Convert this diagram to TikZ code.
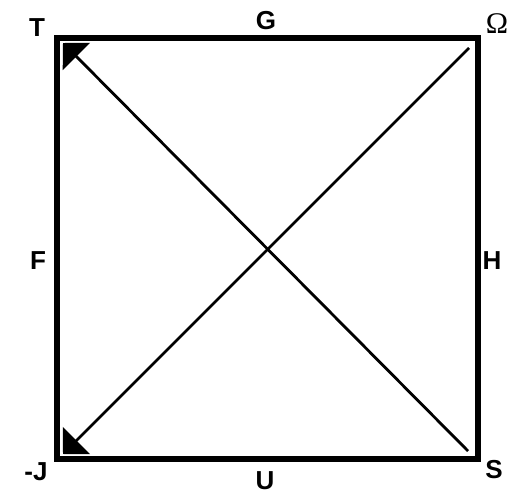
\documentclass[tikz,border=0pt]{standalone}
\usepackage{fontspec}
\setmainfont{Liberation Sans}
\newfontfamily\serifom{Liberation Serif}
\usetikzlibrary{arrows.meta}
\begin{document}
\begin{tikzpicture}[x=1pt,y=-1pt,
  lbl/.style={font=\fontsize{26}{26}\selectfont\bfseries, inner sep=0pt},
  frame/.style={line width=6pt},
  diag/.style={line width=2.8pt, -{Triangle[length=19pt,width=38pt]}}]
\useasboundingbox (0,0) rectangle (513,497);
\coordinate (tl) at (57,38);
\coordinate (tr) at (478,38);
\coordinate (bl) at (57,459);
\coordinate (br) at (478,459);
\draw[frame] (tl) -- (tr) -- (br) -- (bl) -- cycle;
\coordinate (a1) at (469,48);
\coordinate (a2) at (63,454);
\coordinate (b1) at (468,451);
\coordinate (b2) at (63,43);
\draw[diag] (a1) -- (a2);
\draw[diag] (b1) -- (b2);
\node[lbl] (T) at (37,28) {T};
\node[lbl] (G) at (266,21) {G};
\node[inner sep=0pt, font=\serifom\fontsize{30}{30}\selectfont] (Om) at (497,24) {Ω};
\node[lbl] (F) at (38,261) {F};
\node[lbl] (H) at (492,261) {H};
\node[lbl] (J) at (36,472) {-J};
\node[lbl] (U) at (265,481) {U};
\node[lbl] (S) at (494,470) {S};
\end{tikzpicture}
\end{document}
